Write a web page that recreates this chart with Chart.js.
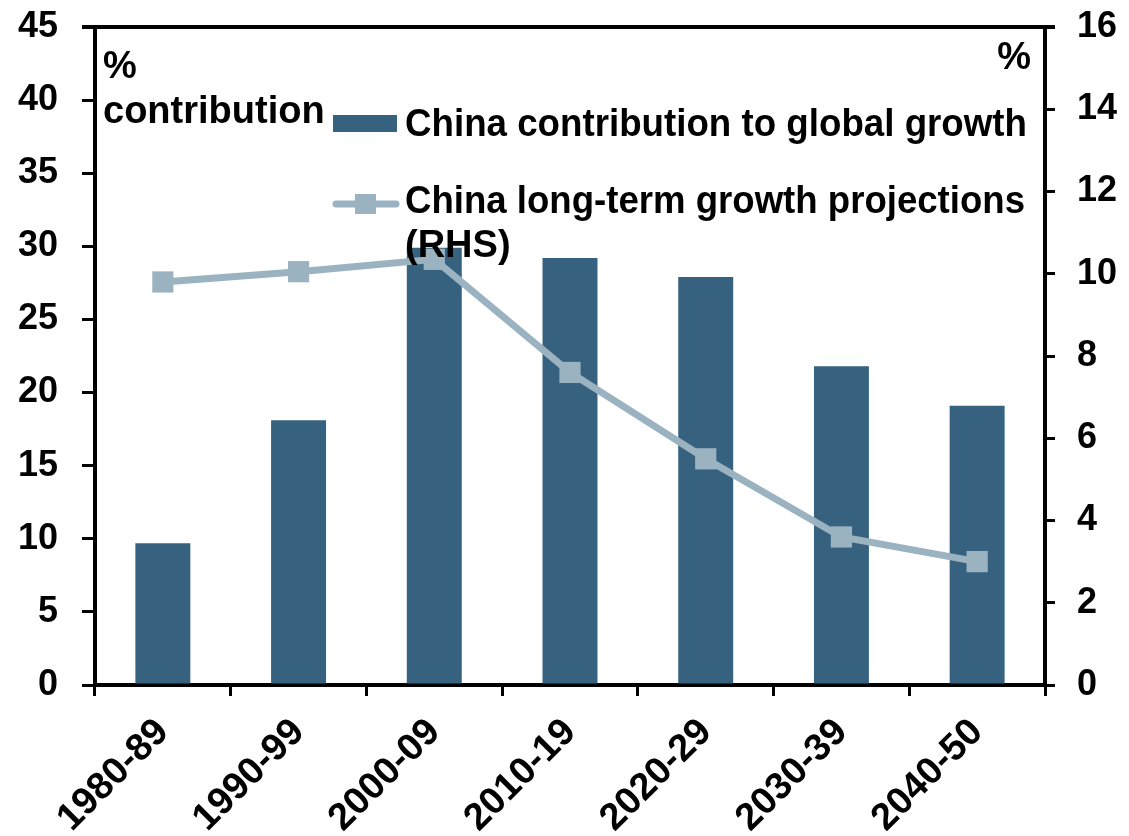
<!DOCTYPE html>
<html>
<head>
<meta charset="utf-8">
<script src="https://cdn.jsdelivr.net/npm/chart.js@4.4.1/dist/chart.umd.min.js"></script>
<style>
  html, body { margin: 0; padding: 0; background: #fff; }
  #chart { display: block; }
</style>
</head>
<body>
<canvas id="chart" width="1129" height="836"></canvas>
<script>
// Decades on the x axis
const categories = ["1980-89", "1990-99", "2000-09", "2010-19", "2020-29", "2030-39", "2040-50"];

// China contribution to global growth (% contribution, LHS)
const contribution = [9.7, 18.1, 29.9, 29.2, 27.9, 21.8, 19.1];

// China long-term growth projections (%, RHS)
const projections = [9.8, 10.05, 10.35, 7.6, 5.5, 3.6, 3.0];

const barLabel = "China contribution to global growth";
const lineLabel = ["China long-term growth projections", "(RHS)"];

const barColor = "#37627f";
const lineColor = "#9bb3c1";
const yFont = { family: "'Liberation Sans', Arial, sans-serif", size: 36, weight: "bold" };
const xFont = { family: "'Liberation Sans', Arial, sans-serif", size: 38, weight: "bold" };

// Top border, legend and axis unit labels drawn inside the plot area
const overlay = {
  id: "overlay",
  beforeDatasetsDraw(chart) {
    const ctx = chart.ctx;
    const area = chart.chartArea;
    ctx.save();
    ctx.strokeStyle = "#000";
    ctx.lineWidth = 4;
    ctx.beginPath();
    ctx.moveTo(area.left - 13, area.top);
    ctx.lineTo(area.right + 10, area.top);
    ctx.stroke();
    ctx.restore();
  },
  afterDatasetsDraw(chart) {
    const ctx = chart.ctx;
    const area = chart.chartArea;
    ctx.save();
    ctx.fillStyle = "#000";
    ctx.textBaseline = "alphabetic";

    // unit labels
    ctx.font = "bold 38px 'Liberation Sans', Arial, sans-serif";
    ctx.textAlign = "left";
    ctx.fillText("%", area.left + 8, area.top + 51);
    ctx.fillText("contribution", area.left + 8, area.top + 96);
    ctx.textAlign = "right";
    ctx.fillText("%", area.right - 14, area.top + 42);

    // legend
    const lx = 333;
    const tx = 405;
    const narrow = "bold 38px 'Liberation Sans Narrow', 'Arial Narrow', 'Liberation Sans', sans-serif";
    const drawNarrow = (text, x, y, target) => {
      ctx.font = narrow;
      ctx.textAlign = "left";
      const w = ctx.measureText(text).width;
      const s = w > target ? target / w : 1;
      ctx.save();
      ctx.translate(x, y);
      ctx.scale(s, 1);
      ctx.fillText(text, 0, 0);
      ctx.restore();
    };

    ctx.fillStyle = chart.data.datasets[0].backgroundColor;
    ctx.fillRect(lx, 115, 64, 17);
    ctx.fillStyle = "#000";
    drawNarrow(barLabel, tx, 136, 622);

    const ds = chart.data.datasets[1];
    ctx.strokeStyle = ds.borderColor;
    ctx.lineWidth = 7;
    ctx.lineCap = "round";
    ctx.beginPath();
    ctx.moveTo(lx + 3, 204);
    ctx.lineTo(lx + 63, 204);
    ctx.stroke();
    ctx.fillStyle = ds.pointBackgroundColor;
    ctx.fillRect(lx + 22, 194, 21, 20);
    ctx.fillStyle = "#000";
    drawNarrow(lineLabel[0], tx, 213, 620);
    drawNarrow(lineLabel[1], tx, 257, 200);

    ctx.restore();
  }
};

// keep the tick padding from pushing the plot area down
const fixY = (w) => (s) => {
  s.width = w;
  s.paddingTop = 0;
  s.paddingBottom = 0;
};

const chart = new Chart(document.getElementById("chart"), {
  type: "bar",
  data: {
    labels: categories,
    datasets: [
      {
        type: "bar",
        label: barLabel,
        data: contribution,
        backgroundColor: barColor,
        borderWidth: 0,
        barPercentage: 0.405,
        categoryPercentage: 1.0,
        yAxisID: "y",
        order: 2
      },
      {
        type: "line",
        label: lineLabel.join(" "),
        data: projections,
        borderColor: lineColor,
        borderWidth: 7,
        pointStyle: "rect",
        pointRadius: 15,
        pointBackgroundColor: lineColor,
        pointBorderWidth: 0,
        tension: 0,
        yAxisID: "y1",
        order: 1
      }
    ]
  },
  options: {
    responsive: false,
    animation: false,
    devicePixelRatio: 1,
    layout: { padding: { top: 27, left: 0, right: 0, bottom: 0 } },
    plugins: {
      legend: { display: false },
      tooltip: { enabled: false }
    },
    scales: {
      x: {
        position: "bottom",
        grid: { offset: true, drawOnChartArea: false, color: "#000", lineWidth: 3, tickLength: 11 },
        border: { color: "#000", width: 4 },
        ticks: { color: "#000", font: xFont, minRotation: 45, maxRotation: 45, padding: 14 },
        afterFit: (s) => { s.height = 151; }
      },
      y: {
        position: "left",
        min: 0,
        max: 45,
        ticks: { stepSize: 5, color: "#000", font: yFont, padding: 24 },
        grid: { drawOnChartArea: false, color: "#000", lineWidth: 3, tickLength: 13 },
        border: { color: "#000", width: 4 },
        afterFit: fixY(95)
      },
      y1: {
        position: "right",
        min: 0,
        max: 16,
        ticks: { stepSize: 2, color: "#000", font: yFont, padding: 22 },
        grid: { drawOnChartArea: false, color: "#000", lineWidth: 3, tickLength: 10 },
        border: { color: "#000", width: 4 },
        afterFit: fixY(84)
      }
    }
  },
  plugins: [overlay]
});
</script>
</body>
</html>
